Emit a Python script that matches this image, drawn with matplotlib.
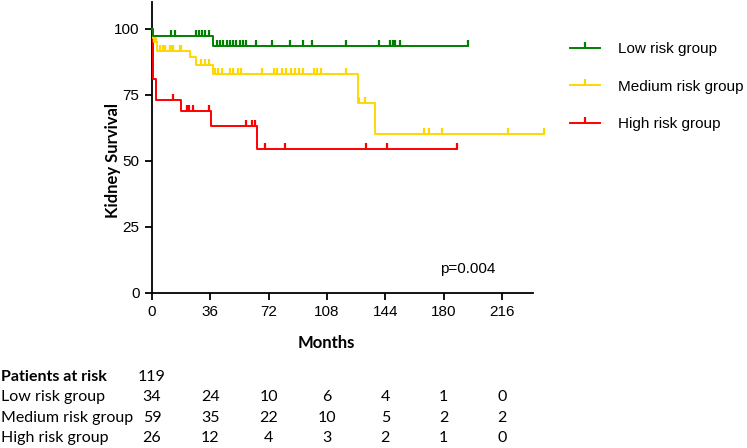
import numpy as np
import matplotlib
matplotlib.use("Agg")
import matplotlib.pyplot as plt
from matplotlib.lines import Line2D
from matplotlib.path import Path
from matplotlib.transforms import blended_transform_factory

# --- Courbes de survie (temps en mois, survie en %) ---
low_t = [0, 0.8, 37.5, 195]
low_s = [100, 97.06, 93.3, 93.3]
low_cens = [12, 14, 27, 29, 31, 33, 35, 40, 42, 44, 46, 48, 50, 52, 54, 56, 58,
            64, 74, 85, 93, 99, 120, 140, 147, 148.5, 150, 153, 195]

med_t = [0, 0.3, 1.2, 3, 23.3, 27, 37.5, 127, 137.7, 242]
med_s = [100, 96.6, 94.9, 91.6, 89.1, 86.2, 82.8, 71.9, 60.2, 60.2]
med_cens = [1.5, 2.2, 5, 7, 8, 11, 12, 13, 17, 18, 30, 33, 35, 39, 41, 43, 48, 50,
            53, 55, 68, 75, 77, 80, 83, 86, 88, 91, 93, 100, 102, 104, 120,
            127.5, 131.5, 168, 171, 179, 220, 242]

high_t = [0, 0.6, 2.4, 18.1, 36.7, 64.9, 188.5]
high_s = [100, 80.8, 73.1, 69.0, 63.3, 54.3, 54.3]
high_cens = [13, 21.8, 23, 25, 35, 58, 62, 63.5, 70, 82, 132, 145, 188.5]

groups = ["Low risk group", "Medium risk group", "High risk group"]
colors = ["#008000", "#FFD700", "#FF0000"]

# --- Tableau des patients à risque ---
risk_times = [0, 36, 72, 108, 144, 180, 216]
total_at_risk = 119
low_risk = [34, 24, 10, 6, 4, 1, 0]
med_risk = [59, 35, 22, 10, 5, 2, 2]
high_risk = [26, 12, 4, 3, 2, 1, 0]

sans = "Liberation Sans"
table_font = "Lato"

# marqueur de censure : petit trait vertical vers le haut
tick_up = Path([(0, 0), (0, 1)], [Path.MOVETO, Path.LINETO])


def step_value(times, surv, t):
    idx = np.searchsorted(times, t, side="right") - 1
    return np.asarray(surv)[idx]


fig = plt.figure(figsize=(7.47, 4.48), dpi=100)
ax = fig.add_axes([0.2035, 0.3467, 0.7327 - 0.2035, 0.9949 - 0.3467])

curves = [(low_t, low_s, low_cens), (med_t, med_s, med_cens), (high_t, high_s, high_cens)]
for (t, s, c), col in zip(reversed(curves), reversed(colors)):
    ax.step(t, s, where="post", color=col, lw=1.4, clip_on=False, zorder=3)
    ax.plot(c, step_value(t, s, c), ls="none", marker=tick_up, ms=9, mew=1.6,
            color=col, clip_on=False, zorder=3)

ax.set_xlim(0, 244)
ax.set_ylim(0, 110)
ax.set_xticks(risk_times)
ax.set_yticks([0, 25, 50, 75, 100])
ax.spines["top"].set_visible(False)
ax.spines["right"].set_visible(False)
ax.spines["bottom"].set_bounds(0, 235)
for sp in ("left", "bottom"):
    ax.spines[sp].set_linewidth(1.3)
ax.tick_params(direction="out", length=5, width=1.3, labelsize=11, pad=4)
for lab in ax.get_xticklabels() + ax.get_yticklabels():
    lab.set_fontfamily(sans)

ax.set_xlabel("Months", fontsize=12, fontweight="bold", fontfamily=table_font)
ax.xaxis.set_label_coords(0.442, -0.145)
ax.set_ylabel("Kidney Survival", fontsize=12, fontweight="bold", fontfamily=table_font)
ax.yaxis.set_label_coords(-0.078, 50 / 110)

ax.text(195, 9, "p=0.004", fontsize=11, fontfamily=sans, ha="center", va="center")

# --- Légende ---
handles = [Line2D([0, 0.5, 1], [0, 0, 0], color=col, lw=1.4, marker=tick_up, ms=9,
                  mew=1.6, markevery=[1]) for col in colors]
leg = fig.legend(handles, groups, loc="upper left", bbox_to_anchor=(0.744, 0.937),
                 frameon=False, prop={"family": sans, "size": 11},
                 handlelength=2.0, handletextpad=1.15, labelspacing=1.55)

# --- Tableau "Patients at risk" ---
trans = blended_transform_factory(ax.transData, fig.transFigure)
rows_y = [1 - 377 / 448, 1 - 397 / 448, 1 - 418 / 448, 1 - 438 / 448]
fs_tab = 11.5
fig.text(0.002, rows_y[0], "Patients at risk", fontsize=fs_tab, fontweight="bold",
         fontfamily=table_font, va="center")
fig.text(risk_times[0], rows_y[0], str(total_at_risk), transform=trans, fontsize=fs_tab,
         fontfamily=table_font, ha="center", va="center")
for name, vals, y in zip(groups, [low_risk, med_risk, high_risk], rows_y[1:]):
    fig.text(0.002, y, name, fontsize=fs_tab, fontfamily=table_font, va="center")
    for t, v in zip(risk_times, vals):
        fig.text(t, y, str(v), transform=trans, fontsize=fs_tab, fontfamily=table_font,
                 ha="center", va="center")

fig.savefig("out.png", dpi=100)
